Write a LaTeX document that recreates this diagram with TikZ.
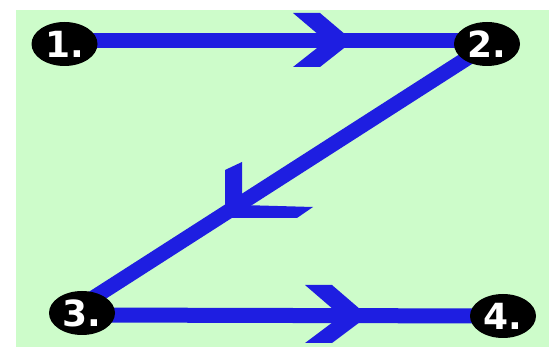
\documentclass[tikz,border=0pt]{standalone}
\usepackage{fontspec}
\newfontfamily\numfont{DejaVu Sans}
\usetikzlibrary{backgrounds,shapes.geometric}
\definecolor{bggreen}{RGB}{205,252,202}
\definecolor{lineblue}{RGB}{30,30,225}
\begin{document}
\begin{tikzpicture}[x=1pt,y=-1pt,
  numnode/.style={ellipse, fill=black, draw=none, inner sep=0pt,
    minimum width=66pt, minimum height=44pt, text=white,
    font=\numfont\bfseries\fontsize{36}{36}\selectfont},
  conn/.style={draw=lineblue, line width=15pt},
  chevron/.style={fill=lineblue, draw=none}]
\useasboundingbox (0,0) rectangle (549,347);
\node[numnode] (n1) at (64.5,44) {1.};
\node[numnode] (n2) at (487,44) {2.};
\node[numnode] (n3) at (82,313) {3.};
\node[numnode] (n4) at (503,316) {4.};
\coordinate (d2) at (480,50);
\coordinate (d3) at (90,300);
\begin{scope}[on background layer]
  \fill[white] (0,0) rectangle (549,347);
  \fill[bggreen] (16,10) rectangle (549,347);
  \draw[conn] ([yshift=3pt]n1.center) -- ([yshift=3pt]n2.center);
  \draw[conn] (d2) -- (d3);
  \draw[conn] ([yshift=-2pt]n3.center) -- (n4.center);
  % chevrons
  \fill[chevron] (293,13) -- (320,13) -- (353,41) -- (320,67) -- (293,67) -- (326,41) -- cycle;
  \fill[chevron] (225,170) -- (242,162) -- (242,205) -- (313,207) -- (297,218) -- (225,218) -- cycle;
  \fill[chevron] (305,285) -- (332,285) -- (368,316) -- (332,343) -- (305,343) -- (341,316) -- cycle;
\end{scope}
\end{tikzpicture}
\end{document}
